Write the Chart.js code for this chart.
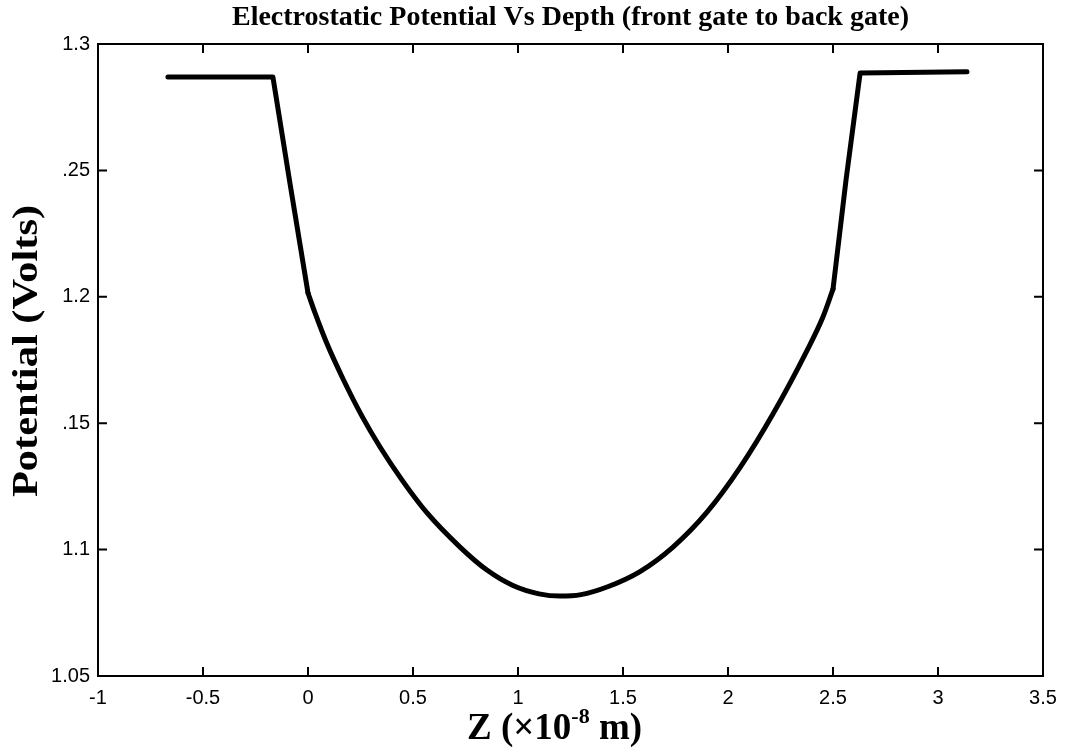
<!DOCTYPE html>
<html>
<head>
<meta charset="utf-8">
<script src="https://cdn.jsdelivr.net/npm/chart.js@4.4.0/dist/chart.umd.min.js"></script>
<style>
  html, body { margin: 0; padding: 0; background: #fff; }
  #wrap { width: 1076px; height: 752px; }
</style>
</head>
<body>
<div id="wrap"><canvas id="potentialChart" width="1076" height="752"></canvas></div>
<script>
// Depth in units of 1e-8 m, potential in volts
const depth = [-0.667, -0.167, -0.086, 0.0, 0.033, 0.09, 0.167, 0.257, 0.343, 0.448,
  0.567, 0.724, 0.852, 0.976, 1.1, 1.2, 1.3, 1.424, 1.581, 1.738, 1.9,
  2.057, 2.214, 2.376, 2.452, 2.5, 2.562, 2.629, 3.138];
const potential = [1.2869, 1.2869, 1.245, 1.2015, 1.1937, 1.1815, 1.1675, 1.1528, 1.1406, 1.1275,
  1.1145, 1.101, 1.0919, 1.0858, 1.0825, 1.0816, 1.0822, 1.0852, 1.0913, 1.101, 1.1148,
  1.1324, 1.1536, 1.1787, 1.192, 1.203, 1.2462, 1.2885, 1.289];
// index range of the smooth (well) part; the gate regions are straight
const wellStart = 3;
const wellEnd = 25;

const xTicks = [-1, -0.5, 0, 0.5, 1, 1.5, 2, 2.5, 3, 3.5];
const xTickLabels = ['-1', '-0.5', '0', '0.5', '1', '1.5', '2', '2.5', '3', '3.5'];
const yTicks = [1.05, 1.1, 1.15, 1.2, 1.25, 1.3];
const yTickLabels = ['1.05', '1.1', '.15', '1.2', '.25', '1.3'];

const chartTitle = 'Electrostatic Potential Vs Depth (front gate to back gate)';
const yTitle = 'Potential (Volts)';

const serif = '"Liberation Serif", "Times New Roman", serif';
const sans = '"Liberation Sans", Arial, sans-serif';

const pts = (from, to) => depth.slice(from, to + 1).map((d, i) => ({ x: d, y: potential[from + i] }));

// frame, inward ticks on all four sides, and the titles (MATLAB look)
const framePlugin = {
  id: 'frame',
  afterDatasetsDraw(chart) {
    const { ctx, chartArea: a, scales: { x, y } } = chart;
    ctx.save();
    ctx.strokeStyle = '#000';
    ctx.lineWidth = 2;
    ctx.strokeRect(a.left, a.top, a.right - a.left, a.bottom - a.top);

    ctx.beginPath();
    xTicks.forEach(v => {
      const px = x.getPixelForValue(v);
      ctx.moveTo(px, a.bottom); ctx.lineTo(px, a.bottom - 9);
      ctx.moveTo(px, a.top); ctx.lineTo(px, a.top + 9);
    });
    yTicks.forEach(v => {
      const py = y.getPixelForValue(v);
      ctx.moveTo(a.left, py); ctx.lineTo(a.left + 9, py);
      ctx.moveTo(a.right, py); ctx.lineTo(a.right - 9, py);
    });
    ctx.stroke();

    ctx.fillStyle = '#000';
    ctx.textBaseline = 'middle';
    ctx.textAlign = 'center';
    const cx = (a.left + a.right) / 2;

    ctx.font = 'bold 28px ' + serif;
    ctx.fillText(chartTitle, cx, 18);

    // x title with superscript exponent
    const big = 'bold 37px ' + serif;
    const small = 'bold 22px ' + serif;
    const p1 = 'Z (\u00d710', p2 = '-8', p3 = ' m)';
    ctx.font = big; const w1 = ctx.measureText(p1).width; const w3 = ctx.measureText(p3).width;
    ctx.font = small; const w2 = ctx.measureText(p2).width;
    let sx = cx - 16 - (w1 + w2 + w3) / 2;
    const ty = 729;
    ctx.textAlign = 'left';
    ctx.font = big; ctx.fillText(p1, sx, ty); sx += w1;
    ctx.font = small; ctx.fillText(p2, sx, ty - 12); sx += w2;
    ctx.font = big; ctx.fillText(p3, sx, ty);

    ctx.translate(28, 351);
    ctx.rotate(-Math.PI / 2);
    ctx.scale(1.18, 1);
    ctx.textAlign = 'center';
    ctx.font = 'bold 36px ' + serif;
    ctx.fillText(yTitle, 0, 0);
    ctx.restore();
  }
};

const lineStyle = {
  borderColor: '#000',
  borderWidth: 5,
  borderCapStyle: 'round',
  borderJoinStyle: 'round',
  pointRadius: 0,
  fill: false
};

const ctx = document.getElementById('potentialChart').getContext('2d');
const potentialChart = new Chart(ctx, {
  type: 'line',
  data: {
    datasets: [
      { ...lineStyle, data: pts(0, wellStart), tension: 0 },
      { ...lineStyle, data: pts(wellStart, wellEnd), cubicInterpolationMode: 'monotone' },
      { ...lineStyle, data: pts(wellEnd, depth.length - 1), tension: 0 }
    ]
  },
  options: {
    responsive: false,
    animation: false,
    layout: { padding: { top: 44, right: 33, left: 0, bottom: 0 } },
    plugins: {
      legend: { display: false },
      tooltip: { enabled: false }
    },
    scales: {
      x: {
        type: 'linear',
        min: -1,
        max: 3.5,
        afterBuildTicks: s => { s.ticks = xTicks.map(v => ({ value: v })); },
        afterFit: s => { s.height = 76; },
        grid: { display: false, drawTicks: false },
        border: { display: false },
        ticks: {
          color: '#000',
          padding: 10,
          maxRotation: 0,
          font: { family: sans, size: 20 },
          callback: (v, i) => xTickLabels[i]
        }
      },
      y: {
        type: 'linear',
        min: 1.05,
        max: 1.3,
        afterBuildTicks: s => { s.ticks = yTicks.map(v => ({ value: v })); },
        afterFit: s => { s.width = 98; },
        grid: { display: false, drawTicks: false },
        border: { display: false },
        ticks: {
          color: '#000',
          padding: 8,
          font: { family: sans, size: 20 },
          callback: (v, i) => yTickLabels[i]
        }
      }
    }
  },
  plugins: [framePlugin]
});
</script>
</body>
</html>
